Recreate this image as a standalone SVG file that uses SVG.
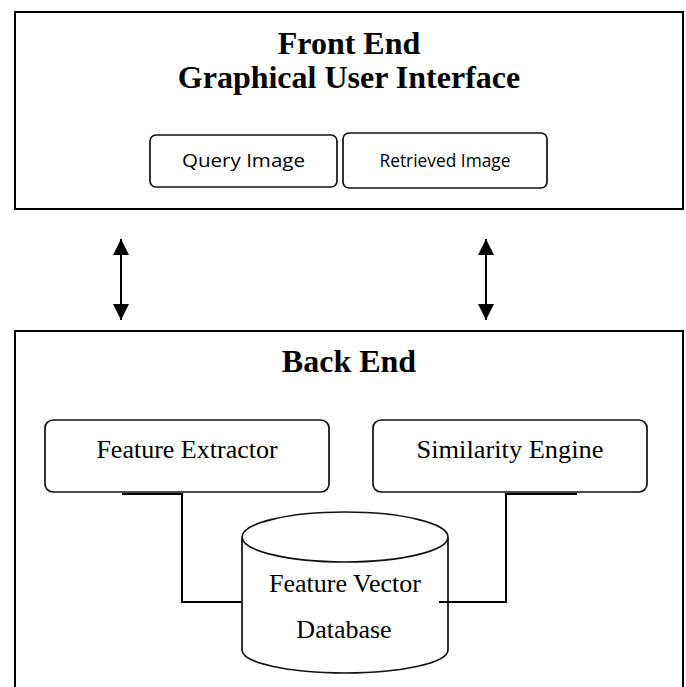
<svg xmlns="http://www.w3.org/2000/svg" width="686" height="687" viewBox="0 0 686 687">
  <defs>
    <style>
      .frame { fill: #fff; stroke: #000; stroke-width: 2; }
      .box { fill: #fff; stroke: #111; stroke-width: 1.7; }
      .title { font-family: "Liberation Serif", "Times New Roman", serif; font-weight: bold; font-size: 32px; text-anchor: middle; fill: #000; }
      .lbl { font-family: "Liberation Serif", "Times New Roman", serif; font-size: 26px; text-anchor: middle; fill: #000; }
      .ui { font-family: "Open Sans", "Liberation Sans", sans-serif; font-size: 19px; text-anchor: middle; fill: #000; }
      .conn { fill: none; stroke: #000; stroke-width: 2; }
      .arrow { fill: none; stroke: #000; stroke-width: 2; }
    </style>
    <marker id="ah" viewBox="0 0 16 16" refX="16" refY="8" markerWidth="16" markerHeight="16" markerUnits="userSpaceOnUse" orient="auto-start-reverse">
      <path d="M0,0 L16,8 L0,16 Z" fill="#000"/>
    </marker>
  </defs>
  <rect width="686" height="687" fill="#fff"/>

  <g id="front-end">
    <rect class="frame" x="15" y="12" width="668" height="197"/>
    <text class="title" x="349" y="54">Front End</text>
    <text class="title" x="349" y="88">Graphical User Interface</text>
  </g>
  <g id="query-image">
    <rect class="box" x="150" y="135" width="187" height="52" rx="6"/>
    <text class="ui" x="243.5" y="167" textLength="123" lengthAdjust="spacingAndGlyphs">Query Image</text>
  </g>
  <g id="retrieved-image">
    <rect class="box" x="343" y="133" width="204" height="55" rx="6"/>
    <text class="ui" x="445" y="167" textLength="131" lengthAdjust="spacingAndGlyphs">Retrieved Image</text>
  </g>

  <g id="back-end">
    <rect class="frame" x="15" y="331" width="668" height="380"/>
    <text class="title" x="349" y="372">Back End</text>
  </g>
  <g id="feature-extractor">
    <rect class="box" x="45" y="420" width="284" height="72" rx="8"/>
    <text class="lbl" x="187" y="458">Feature Extractor</text>
  </g>
  <g id="similarity-engine">
    <rect class="box" x="373" y="420" width="274" height="72" rx="8"/>
    <text class="lbl" x="510" y="458" textLength="187" lengthAdjust="spacingAndGlyphs">Similarity Engine</text>
  </g>
  <g id="feature-vector-database">
    <path class="box" d="M242,538 V650 A103,23 0 0 0 448,650 V538"/>
    <ellipse class="box" cx="345" cy="537" rx="103" ry="25"/>
    <text class="lbl" x="345" y="592">Feature Vector</text>
    <text class="lbl" x="344" y="638">Database</text>
  </g>

  <g id="connectors">
    <line class="arrow" x1="121" y1="239" x2="121" y2="320" marker-start="url(#ah)" marker-end="url(#ah)"/>
    <line class="arrow" x1="486" y1="239" x2="486" y2="320" marker-start="url(#ah)" marker-end="url(#ah)"/>
    <path class="conn" d="M122,494 H182 V602 H242"/>
    <path class="conn" d="M577,494 H506 V602 H439"/>
  </g>
</svg>
